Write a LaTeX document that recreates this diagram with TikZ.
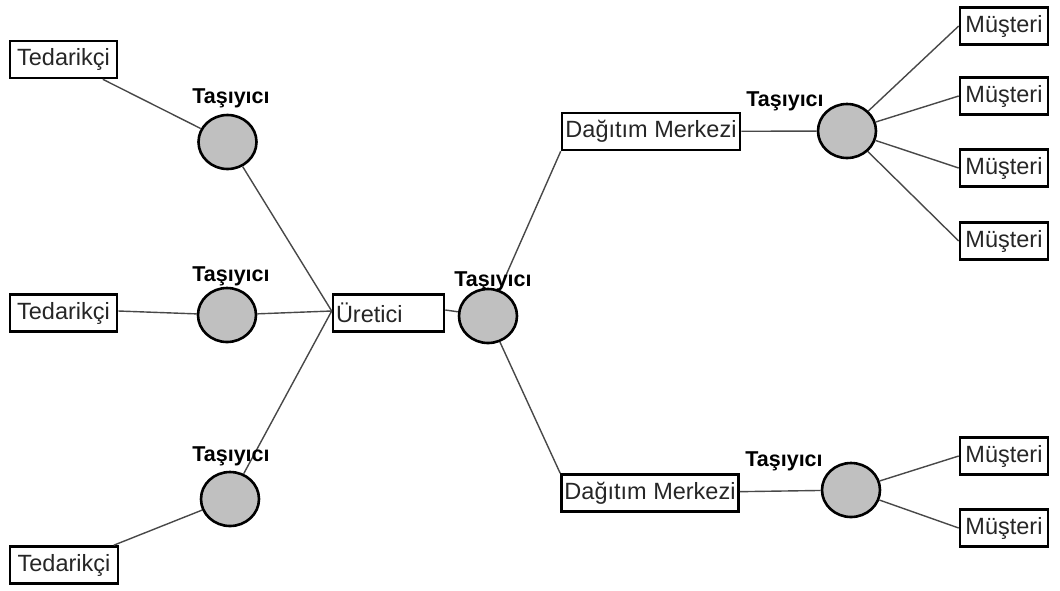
\documentclass[tikz,border=0pt]{standalone}
\usepackage{fontspec}
\setmainfont{Liberation Sans}
\usetikzlibrary{shapes.geometric}
\definecolor{inkgray}{HTML}{262626}
\definecolor{wiregray}{HTML}{484848}
\definecolor{discfill}{HTML}{C0C0C0}
\begin{document}
\begin{tikzpicture}[x=1pt,y=-1pt,
  box/.style={draw=black, line width=2.6pt, fill=white, rectangle,
    minimum height=37, inner xsep=3, inner ysep=0,
    text=inkgray, font=\fontsize{23.5}{25}\selectfont},
  disc/.style={draw=black, line width=2.6pt, fill=discfill, ellipse,
    minimum width=58, minimum height=54, inner sep=0},
  tag/.style={inner sep=0, font=\fontsize{21.5}{23}\selectfont\bfseries, text=black},
  wire/.style={draw=wiregray, line width=1.4pt}]
\useasboundingbox (0,0) rectangle (1060,590);

% suppliers
\node[box, minimum width=107] (ted1) at (63.5,59.5) {Tedarikçi};
\node[box, minimum width=107] (ted2) at (63.5,313) {Tedarikçi};
\node[box, minimum width=108] (ted3) at (64,565) {Tedarikçi};

% manufacturer
\node[box, text width=105, align=left] (uret) at (388.5,313) {Üretici};

% distribution centres
\node[box, minimum width=178] (dm1) at (651,131.5) {Dağıtım Merkezi};
\node[box, minimum width=176] (dm2) at (650,493) {Dağıtım Merkezi};

% customers
\node[box, minimum width=88] (m1) at (1004,26) {Müşteri};
\node[box, minimum width=88] (m2) at (1004,96) {Müşteri};
\node[box, minimum width=88] (m3) at (1004,168) {Müşteri};
\node[box, minimum width=88] (m4) at (1004,241) {Müşteri};
\node[box, minimum width=88] (m5) at (1004,456) {Müşteri};
\node[box, minimum width=88] (m6) at (1004,528) {Müşteri};

% carriers
\node[disc] (c1) at (227.5,142) {};
\node[disc] (c2) at (227,315) {};
\node[disc] (c3) at (230,499) {};
\node[disc] (c0) at (488,316) {};
\node[disc] (cr1) at (847,131) {};
\node[disc] (cr2) at (851,490) {};

% connectors
\coordinate (hub) at ([yshift=2]uret.west);
\draw[wire] (ted1) -- (c1);
\draw[wire] ([yshift=2]ted2.east) -- (c2);
\draw[wire] (ted3) -- (c3);
\draw[wire] (c1) -- (hub);
\draw[wire] (c2) -- (hub);
\draw[wire] (c3) -- (hub);
\draw[wire] ([yshift=3]uret.east) -- (c0);
\draw[wire] (c0) -- (dm1.south west);
\draw[wire] (c0) -- (dm2.north west);
\draw[wire] (dm1) -- (cr1);
\draw[wire] (dm2) -- (cr2);
\draw[wire] (cr1) -- (m1.west);
\draw[wire] (cr1) -- (m2.west);
\draw[wire] (cr1) -- (m3.west);
\draw[wire] (cr1) -- (m4.west);
\draw[wire] (cr2) -- (m5.west);
\draw[wire] (cr2) -- (m6.west);

% carrier labels
\node[tag] (t1) at (231,98) {Taşıyıcı};
\node[tag] (t2) at (231,276) {Taşıyıcı};
\node[tag] (t3) at (231,456) {Taşıyıcı};
\node[tag] (t0) at (493,281) {Taşıyıcı};
\node[tag] (tr1) at (785,101) {Taşıyıcı};
\node[tag] (tr2) at (784,461) {Taşıyıcı};
\end{tikzpicture}
\end{document}
